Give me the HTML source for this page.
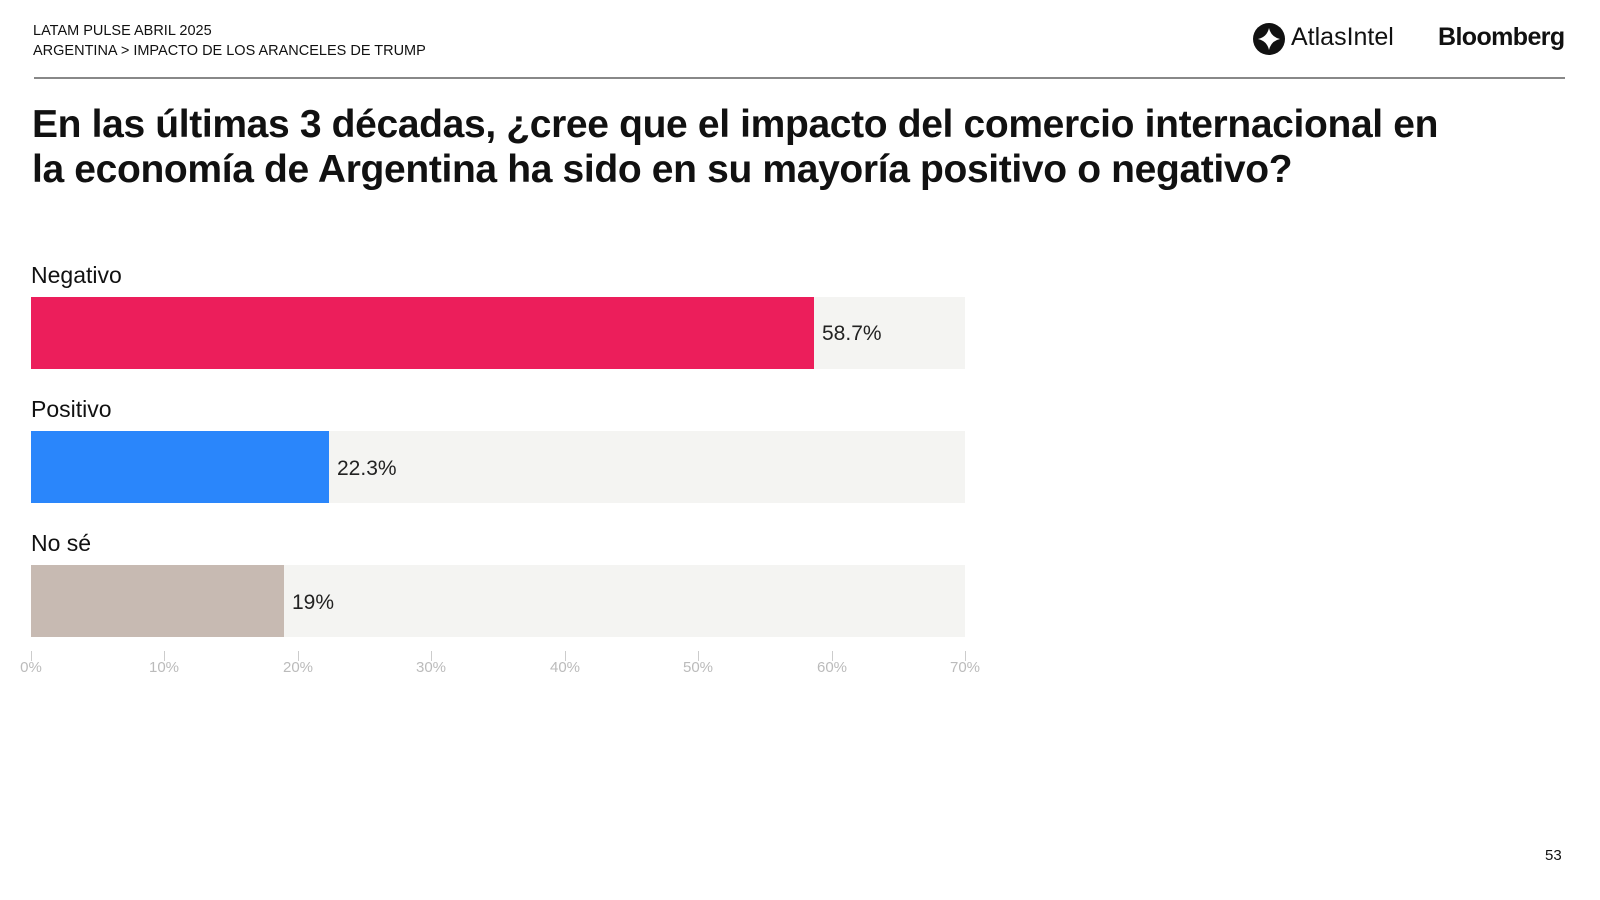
<!DOCTYPE html>
<html><head><meta charset="utf-8"><style>
body{margin:0;width:1600px;height:900px;background:#fff;font-family:"Liberation Sans",sans-serif;position:relative;overflow:hidden;color:#111}
.a{position:absolute;white-space:nowrap}
.bg{position:absolute;left:31px;width:934px;height:72px;background:#f4f4f2}
.bar{position:absolute;left:31px;height:72px}
.lab{font-size:23px;color:#111}
.val{font-size:21px;color:#222}
.tk{position:absolute;top:651px;width:1px;height:10px;background:#ccc}
.tl{position:absolute;top:659px;font-size:15px;color:#bbb;width:60px;text-align:center}
</style></head><body>
<div class="a" style="left:33px;top:23px;font-size:14.5px">LATAM PULSE ABRIL 2025</div>
<div class="a" style="left:33px;top:43px;font-size:14.5px">ARGENTINA &gt; IMPACTO DE LOS ARANCELES DE TRUMP</div>
<svg class="a" style="left:1253px;top:23px" width="32" height="32" viewBox="0 0 32 32"><circle cx="16" cy="16" r="16" fill="#111"/><path d="M16 5 Q18 14 27 16 Q18 18 16 27 Q14 18 5 16 Q14 14 16 5Z" fill="#fff"/></svg>
<div class="a" style="left:1291px;top:23px;font-size:25px;color:#111">AtlasIntel</div>
<div class="a" style="left:1438px;top:23px;font-size:25px;font-weight:bold;letter-spacing:-0.6px">Bloomberg</div>
<div class="a" style="left:34px;top:77px;width:1531px;height:2px;background:#888"></div>
<div class="a" style="left:32px;top:102px;font-size:39px;font-weight:bold;letter-spacing:-0.35px;line-height:45px">En las últimas 3 décadas, ¿cree que el impacto del comercio internacional en<br>la economía de Argentina ha sido en su mayoría positivo o negativo?</div>

<div class="a lab" style="left:31px;top:262px">Negativo</div>
<div class="bg" style="top:297px"></div><div class="bar" style="top:297px;width:783px;background:#ec1e5b"></div>
<div class="a val" style="left:822px;top:322px">58.7%</div>

<div class="a lab" style="left:31px;top:396px">Positivo</div>
<div class="bg" style="top:431px"></div><div class="bar" style="top:431px;width:298px;background:#2a86fb"></div>
<div class="a val" style="left:337px;top:457px">22.3%</div>

<div class="a lab" style="left:31px;top:530px">No sé</div>
<div class="bg" style="top:565px"></div><div class="bar" style="top:565px;width:253px;background:#c7bab2"></div>
<div class="a val" style="left:292px;top:591px">19%</div>

<div class="tk" style="left:31px"></div><div class="tl" style="left:1px">0%</div>
<div class="tk" style="left:164px"></div><div class="tl" style="left:134px">10%</div>
<div class="tk" style="left:298px"></div><div class="tl" style="left:268px">20%</div>
<div class="tk" style="left:431px"></div><div class="tl" style="left:401px">30%</div>
<div class="tk" style="left:565px"></div><div class="tl" style="left:535px">40%</div>
<div class="tk" style="left:698px"></div><div class="tl" style="left:668px">50%</div>
<div class="tk" style="left:832px"></div><div class="tl" style="left:802px">60%</div>
<div class="tk" style="left:965px"></div><div class="tl" style="left:935px">70%</div>

<div class="a" style="left:1545px;top:847px;font-size:15px">53</div>
</body></html>
